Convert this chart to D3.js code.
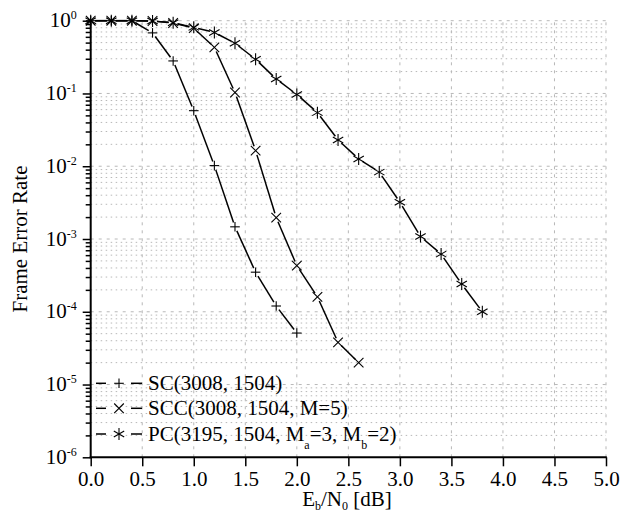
<!DOCTYPE html>
<html>
<head>
<meta charset="utf-8">
<script src="https://cdn.jsdelivr.net/npm/d3@7"></script>
<style>
  body { margin: 0; background: #fff; }
  text { font-family: "Liberation Serif", "Times New Roman", serif; fill: #000; }
</style>
</head>
<body>
<svg id="chart" width="621" height="514"></svg>
<script>
/* DATA */
const ebno = [0.0, 0.2, 0.4, 0.6, 0.8, 1.0, 1.2, 1.4, 1.6, 1.8, 2.0, 2.2, 2.4, 2.6, 2.8, 3.0, 3.2, 3.4, 3.6, 3.8];

const scFer  = [1, 1, 1, 0.68, 0.28, 0.058, 0.0102, 0.00147, 3.5e-4, 1.2e-4, 5.1e-5];
const sccFer = [1, 1, 1, 0.99, 0.93, 0.79, 0.43, 0.103, 0.0164, 0.00197, 4.3e-4, 1.6e-4, 3.8e-5, 2.0e-5];
const pcFer  = [1, 1, 1, 0.99, 0.94, 0.81, 0.69, 0.49, 0.295, 0.158, 0.097, 0.0545, 0.023, 0.0126, 0.0083, 0.0032, 0.00108, 6.2e-4, 2.4e-4, 1.0e-4];

const xTicks = [0, 0.5, 1, 1.5, 2, 2.5, 3, 3.5, 4, 4.5, 5];
const yExps = [0, -1, -2, -3, -4, -5, -6];

const series = [
  { name: "sc",  marker: "plus",  values: scFer,  label: [["SC(3008, 1504)", null]] },
  { name: "scc", marker: "cross", values: sccFer, label: [["SCC(3008, 1504, M=5)", null]] },
  { name: "pc",  marker: "star",  values: pcFer,
    label: [["PC(3195, 1504, M", null], ["a", "sub"], ["=3, M", null], ["b", "sub"], ["=2)", null]] }
];

/* LAYOUT */
const margin = { top: 20.7, left: 90.7, right: 15, bottom: 56.7 };
const W = 621, H = 514;
const FS = "21px", SUB = "12px";

const svg = d3.select("#chart");

const x = d3.scaleLinear().domain([0, 5]).range([margin.left, W - margin.right]);
const y = d3.scaleLog().domain([1e-6, 1]).range([H - margin.bottom, margin.top]);

const x0 = x.range()[0], x1 = x.range()[1];
const y0 = y.range()[0], y1 = y.range()[1];

/// grid: minor horizontal (dotted), major horizontal & vertical (dashed)
const minorY = [];
yExps.slice(0, -1).forEach(e => {
  for (let k = 2; k <= 9; k++) minorY.push(k * Math.pow(10, e - 1));
});

const grid = svg.append("g").attr("class", "grid");

grid.selectAll(".minor")
  .data(minorY)
  .join("line")
  .attr("x1", x0).attr("x2", x1)
  .attr("y1", d => y(d)).attr("y2", d => y(d))
  .attr("stroke", "#b8b8b8")
  .attr("stroke-width", 1)
  .attr("stroke-dasharray", "1.5,3.5");

grid.selectAll(".majorY")
  .data(yExps.slice(0, -1))
  .join("line")
  .attr("x1", x0).attr("x2", x1)
  .attr("y1", e => y(Math.pow(10, e))).attr("y2", e => y(Math.pow(10, e)))
  .attr("stroke", "#b8b8b8")
  .attr("stroke-width", 1)
  .attr("stroke-dasharray", "3,5");

grid.selectAll(".majorX")
  .data(xTicks.slice(1))
  .join("line")
  .attr("x1", d => x(d)).attr("x2", d => x(d))
  .attr("y1", y0).attr("y2", y1)
  .attr("stroke", "#b8b8b8")
  .attr("stroke-width", 1)
  .attr("stroke-dasharray", "3,5");

/// markers
function drawMarker(g, type, cx, cy) {
  const s = 4.8;
  const m = g.append("g").attr("transform", `translate(${cx},${cy})`)
    .attr("stroke", "#000").attr("stroke-width", 1.1).attr("fill", "none");
  if (type === "plus") {
    m.append("line").attr("x1", -s).attr("x2", s).attr("y1", 0).attr("y2", 0);
    m.append("line").attr("x1", 0).attr("x2", 0).attr("y1", -s).attr("y2", s);
  } else if (type === "cross") {
    m.append("line").attr("x1", -s).attr("x2", s).attr("y1", -s).attr("y2", s);
    m.append("line").attr("x1", -s).attr("x2", s).attr("y1", s).attr("y2", -s);
  } else {
    const r = 6;
    [90, 30, 150].forEach(a => {
      const dx = r * Math.cos(a * Math.PI / 180), dy = r * Math.sin(a * Math.PI / 180);
      m.append("line").attr("x1", -dx).attr("x2", dx).attr("y1", -dy).attr("y2", dy);
    });
  }
}

/// curves: segments between markers, with a little gap around each marker
const gap = 4.5;
const plot = svg.append("g").attr("class", "plot");

series.forEach(s => {
  const pts = s.values.map((v, i) => [x(ebno[i]), y(v)]);
  const g = plot.append("g");
  for (let i = 0; i < pts.length - 1; i++) {
    const [ax, ay] = pts[i], [bx, by] = pts[i + 1];
    const len = Math.hypot(bx - ax, by - ay);
    if (len <= 2 * gap) continue;
    const ux = (bx - ax) / len, uy = (by - ay) / len;
    g.append("line")
      .attr("x1", ax + ux * gap).attr("y1", ay + uy * gap)
      .attr("x2", bx - ux * gap).attr("y2", by - uy * gap)
      .attr("stroke", "#000").attr("stroke-width", 1.5);
  }
  pts.forEach(p => drawMarker(g, s.marker, p[0], p[1]));
});

/// axes (left and bottom only)
const xAxis = svg.append("g")
  .attr("transform", `translate(0,${y0})`)
  .call(d3.axisBottom(x).tickValues(xTicks).tickFormat(d3.format(".1f")).tickSize(9).tickPadding(5));

svg.append("g")
  .attr("transform", `translate(${x0},0)`)
  .call(d3.axisLeft(y).tickValues(minorY).tickFormat("").tickSize(5));

svg.append("g")
  .attr("transform", `translate(${x0},0)`)
  .call(d3.axisLeft(y).tickValues(yExps.map(e => Math.pow(10, e))).tickFormat("").tickSize(8));

svg.selectAll(".domain").remove();
svg.selectAll(".tick line").attr("stroke", "#000").attr("stroke-width", 1.5);

xAxis.selectAll(".tick text").style("font-size", FS);

svg.append("line")
  .attr("x1", x0 - 1).attr("x2", x1 + 0.8).attr("y1", y0).attr("y2", y0)
  .attr("stroke", "#000").attr("stroke-width", 2);
svg.append("line")
  .attr("x1", x0).attr("x2", x0).attr("y1", y0 + 1).attr("y2", y1)
  .attr("stroke", "#000").attr("stroke-width", 2);

/// y tick labels 10^n
const yLab = svg.append("g")
  .selectAll("text")
  .data(yExps)
  .join("text")
  .attr("x", x0 - 14)
  .attr("y", e => y(Math.pow(10, e)) + 6.5)
  .attr("text-anchor", "end")
  .style("font-size", FS);

yLab.append("tspan").text("10");
yLab.append("tspan")
  .attr("dy", -8)
  .style("font-size", SUB)
  .text(e => e === 0 ? "0" : "-" + Math.abs(e));

/// axis titles
svg.append("text")
  .attr("transform", `translate(27,${(y0 + y1) / 2}) rotate(-90)`)
  .attr("text-anchor", "middle")
  .style("font-size", FS)
  .text("Frame Error Rate");

const xt = svg.append("text")
  .attr("x", 347)
  .attr("y", 505.5)
  .attr("text-anchor", "middle")
  .style("font-size", FS);
xt.append("tspan").text("E");
xt.append("tspan").attr("dy", 4).style("font-size", SUB).text("b");
xt.append("tspan").attr("dy", -4).text("/N");
xt.append("tspan").attr("dy", 4).style("font-size", SUB).text("0");
xt.append("tspan").attr("dy", -4).text(" [dB]");

/// legend
const legend = svg.append("g");
const legY = [383.3, 408.3, 434];

series.forEach((s, i) => {
  const g = legend.append("g");
  const yy = legY[i];
  g.append("line").attr("x1", 96).attr("x2", 106).attr("y1", yy).attr("y2", yy)
    .attr("stroke", "#000").attr("stroke-width", 1.5);
  g.append("line").attr("x1", 131).attr("x2", 142).attr("y1", yy).attr("y2", yy)
    .attr("stroke", "#000").attr("stroke-width", 1.5);
  drawMarker(g, s.marker, 119, yy);
  const t = g.append("text").attr("x", 148).attr("y", yy + 7).style("font-size", FS);
  let shifted = false;
  s.label.forEach(([txt, kind]) => {
    const sp = t.append("tspan").text(txt);
    if (kind === "sub") {
      sp.attr("dy", 8).style("font-size", SUB);
      shifted = true;
    } else if (shifted) {
      sp.attr("dy", -8);
      shifted = false;
    }
  });
});
</script>
</body>
</html>
